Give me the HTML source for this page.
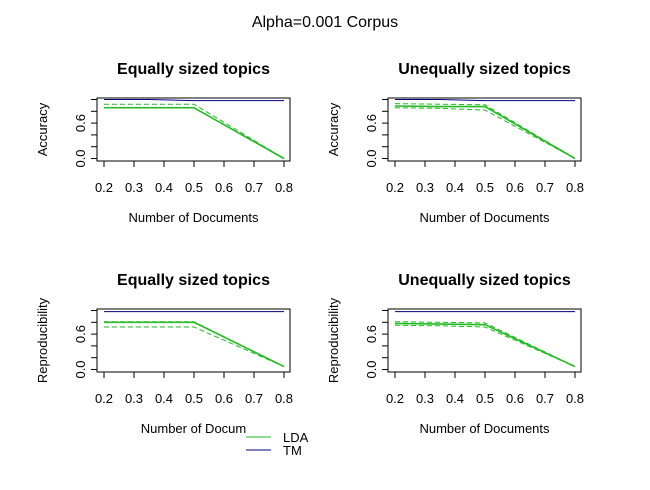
<!DOCTYPE html>
<html><head><meta charset="utf-8"><style>
body{margin:0;background:#fff}
svg text{font-family:"Liberation Sans",Arial,sans-serif}
</style></head><body>
<svg id="c" width="650" height="485" viewBox="0 0 650 485">
<rect width="650" height="485" fill="#fff"/>
<text x="325" y="27" font-size="16" text-anchor="middle">Alpha=0.001 Corpus</text>
<g>
<line x1="246" y1="437" x2="271" y2="437" stroke="#22bb22" stroke-width="1"/>
<text x="283" y="442" font-size="13">LDA</text>
<line x1="246" y1="450" x2="271" y2="450" stroke="#000080" stroke-width="1"/>
<text x="283" y="455" font-size="13">TM</text>
</g>
</svg>
<script>
const xs=[0.2,0.35,0.5,0.8];
const xTicks=[0.2,0.3,0.4,0.5,0.6,0.7,0.8];
const yTicks=[0,0.2,0.4,0.6,0.8,1.0];
const yLabels=["0.0","","","0.6","",""];
const titles=["Equally sized topics","Unequally sized topics","Equally sized topics","Unequally sized topics"];
const yTitles=["Accuracy","Accuracy","Reproducibility","Reproducibility"];
const xTitles=["Number of Documents","Number of Documents","Number of Docum","Number of Documents"];
const tm1=[1.0,1.0,0.98,0.98], lda1=[0.86,0.86,0.86,0.0], hi1=[0.92,0.92,0.92,0.0], lo1=[0.86,0.86,0.86,0.0];
const tm2=[1.0,1.0,0.98,0.98], lda2=[0.89,0.88,0.88,0.0], hi2=[0.93,0.92,0.91,0.0], lo2=[0.86,0.85,0.82,0.0];
const tm3=[0.98,0.98,0.98,0.98], lda3=[0.80,0.80,0.80,0.05], hi3=[0.81,0.81,0.81,0.05], lo3=[0.72,0.72,0.72,0.05];
const tm4=[0.98,0.98,0.98,0.98], lda4=[0.78,0.77,0.76,0.05], hi4=[0.81,0.80,0.79,0.05], lo4=[0.75,0.74,0.72,0.05];
const series=[[tm1,lda1,hi1,lo1],[tm2,lda2,hi2,lo2],[tm3,lda3,hi3,lo3],[tm4,lda4,hi4,lo4]];
const NS="http://www.w3.org/2000/svg", svg=document.getElementById('c');
function mk(t,a,p){const e=document.createElementNS(NS,t);for(const k in a)e.setAttribute(k,a[k]);(p||svg).appendChild(e);return e;}
const origins=[[0,0],[291,0],[0,211],[291,211]];
series.forEach((s,i)=>{
  const [ox,oy]=origins[i];
  const L=97+ox,R=290+ox,T=98+oy,B=161+oy;
  const X=v=>104+ox+(v-0.2)/0.6*180;
  const Y=v=>158.5+oy-v*59;
  const g=mk('g',{});
  
  
  const t=mk('text',{x:(L+R)/2,y:74+oy,'font-size':16,'font-weight':'bold','text-anchor':'middle'},g);t.textContent=titles[i];
  
  const xt=mk('text',{x:(L+R)/2,y:222+oy,'font-size':13,'text-anchor':'middle'},g);xt.textContent=xTitles[i];
  
  const yt=mk('text',{x:0,y:0,'font-size':13,'text-anchor':'middle',transform:`translate(${47+ox},${(T+B)/2}) rotate(-90)`},g);yt.textContent=yTitles[i];
  
  xTicks.forEach(v=>{mk('line',{x1:X(v),x2:X(v),y1:B,y2:B+6,stroke:'#000'},g);
    const l=mk('text',{x:X(v),y:B+31,'font-size':13,'text-anchor':'middle'},g);l.textContent=v.toFixed(1);
    });
  yTicks.forEach((v,j)=>{mk('line',{x1:L-6,x2:L,y1:Y(v),y2:Y(v),stroke:'#000'},g);
    if(yLabels[j]){const l=mk('text',{x:0,y:0,'font-size':13,'text-anchor':'middle',transform:`translate(${L-12},${Y(v)}) rotate(-90)`},g);l.textContent=yLabels[j];
    }});
  const pts=a=>xs.map((x,k)=>X(x)+','+Y(a[k])).join(' ');
  const names=['tm-line','lda-line','lda-upper','lda-lower'];
  s.forEach((a,k)=>{const p=mk('polyline',{points:pts(a),fill:'none',stroke:k==0?'#000080':'#22bb22','stroke-width':k==1?1.6:1,'stroke-dasharray':k>1?'5,3':'none'},g);
    });
  mk('rect',{x:L,y:T,width:R-L,height:B-T,fill:'none',stroke:'#000'},g);
});
</script>
</body></html>
